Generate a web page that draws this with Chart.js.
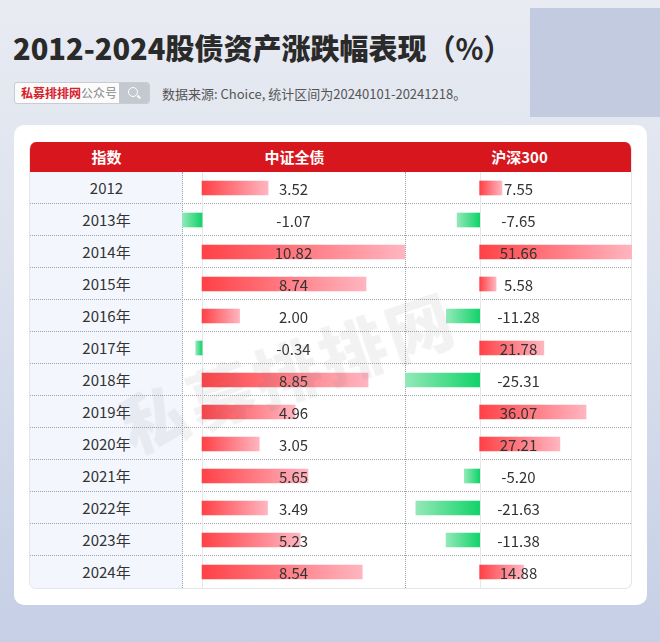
<!DOCTYPE html>
<html>
<head>
<meta charset="utf-8">
<script src="https://cdn.jsdelivr.net/npm/chart.js@4.4.1/dist/chart.umd.min.js"></script>
<style>
  html, body { margin:0; padding:0; }
  body {
    width:660px; height:642px; position:relative; overflow:hidden;
    background: linear-gradient(180deg, #e8ebf2 0%, #dde2ee 40%, #cdd5e8 80%, #c6cfe6 100%);
    font-family: "Noto Sans CJK SC", "Noto Sans", sans-serif;
  }
  .panel { position:absolute; left:530px; top:8px; width:130px; height:109px; background:#c3cbe0; }
  .title { position:absolute; left:13px; top:26px; font-size:29px; font-weight:900; color:#2a2a2a; white-space:nowrap; letter-spacing:0px; }
  .title .p { font-weight:700; }
  .search { position:absolute; left:14px; top:82px; width:136px; height:22px; border:1px solid #c9ccd3; border-radius:3px; background:#fbfbfc; box-sizing:border-box; overflow:hidden; }
  .search .t { position:absolute; left:6px; top:1px; font-size:12px; line-height:18px; color:#888; white-space:nowrap; }
  .search .t b { color:#d6212a; font-weight:700; }
  .search .btn { position:absolute; right:0; top:0; width:30px; height:20px; background:#c4c8cf; }
  .search .btn i { position:absolute; left:9px; top:4px; width:8px; height:8px; border:1.6px solid #fff; border-radius:50%; }
  .search .btn u { position:absolute; left:18px; top:13px; width:4px; height:1.6px; background:#fff; transform:rotate(45deg); }
  .source { position:absolute; left:162px; top:84px; font-size:13px; color:#555; white-space:nowrap; }
  .card { position:absolute; left:14px; top:125px; width:633px; height:480px; background:#fff; border-radius:10px; }
  .table { position:absolute; left:29px; top:142px; width:603px; height:447px; border:1px solid #e4e6ea; border-top:none; border-radius:7px; box-sizing:border-box; overflow:hidden; }
  .head { position:absolute; left:0; top:0; width:603px; height:30px; background:#d8161e; }
  .head div { position:absolute; top:0; height:30px; line-height:30px; text-align:center; color:#fff; font-weight:700; font-size:15px; }
  .col1bg { position:absolute; left:0; top:30px; width:153px; height:416px; background:#f3f7fd; }
  .vline { position:absolute; top:0; width:0; height:446px; border-left:1px dotted #9da3ad; }
  .row { position:absolute; left:0; width:603px; height:32px; box-sizing:border-box; }
  .row.sep { border-bottom:1px dotted #9da3ad; }
  .row span { position:absolute; left:0; width:153px; text-align:center; line-height:32px; font-size:15px; color:#333; }
  canvas.c { position:absolute; }
  .wm { position:absolute; left:122px; top:393px; height:66px; line-height:66px; font-size:66px; font-weight:900; color:rgba(110,110,110,0.09); letter-spacing:4px; transform:rotate(-19deg); transform-origin:0 33px; white-space:nowrap; pointer-events:none; }
</style>
</head>
<body>
<div class="panel"></div>
<div class="title">2012-2024股债资产涨跌幅表现<span class="p">（%）</span></div>
<div class="search"><div class="t"><b>私募排排网</b>公众号</div><div class="btn"><i></i><u></u></div></div>
<div class="source">数据来源: Choice, 统计区间为20240101-20241218。</div>
<div class="card"></div>
<div class="table" id="table">
  <div class="col1bg"></div>
  <div class="head">
    <div style="left:0;width:153px">指数</div>
    <div style="left:153px;width:223px">中证全债</div>
    <div style="left:376px;width:227px">沪深300</div>
  </div>
  <div id="rows"></div>
  <div class="vline" style="left:152px;top:30px;height:416px"></div>
  <div class="vline" style="left:375px;top:30px;height:416px"></div>
</div>
<canvas class="c" id="bond" style="left:182px;top:172px;width:223px;height:416px" width="223" height="416"></canvas>
<canvas class="c" id="hs" style="left:405px;top:172px;width:227px;height:416px" width="227" height="416"></canvas>
<div class="wm">私募排排网</div>

<script>
const years = ["2012","2013年","2014年","2015年","2016年","2017年","2018年","2019年","2020年","2021年","2022年","2023年","2024年"];
const bondValues = [3.52,-1.07,10.82,8.74,2.00,-0.34,8.85,4.96,3.05,5.65,3.49,5.23,8.54];
const hs300Values = [7.55,-7.65,51.66,5.58,-11.28,21.78,-25.31,36.07,27.21,-5.20,-21.63,-11.38,14.88];
const columnTitles = ["指数","中证全债","沪深300"];

// table rows (index column labels + dotted separators)
const rowsEl = document.getElementById('rows');
years.forEach((y, i) => {
  const r = document.createElement('div');
  r.className = 'row' + (i < years.length - 1 ? ' sep' : '');
  r.style.top = (30 + i * 32) + 'px';
  r.innerHTML = '<span>' + y + '</span>';
  rowsEl.appendChild(r);
});

function gradFill(ctx) {
  const chart = ctx.chart;
  const area = chart.chartArea;
  if (!area) return '#f44';
  const v = ctx.raw;
  const xs = chart.scales.x;
  const x0 = xs.getPixelForValue(0);
  const x1 = xs.getPixelForValue(v);
  if (x1 === x0) return '#f44';
  const g = chart.ctx.createLinearGradient(x0, 0, x1, 0);
  if (v >= 0) { g.addColorStop(0, '#ff4146'); g.addColorStop(1, '#ffb5c0'); }
  else { g.addColorStop(0, '#12d36a'); g.addColorStop(1, '#93e9b8'); }
  return g;
}

const labelPlugin = {
  id: 'vals',
  beforeDatasetsDraw(chart) {
    const c = chart.ctx, xs = chart.scales.x, a = chart.chartArea;
    const x0 = Math.round(xs.getPixelForValue(0)) + 0.5;
    c.save();
    c.strokeStyle = '#e6e6e6'; c.lineWidth = 1;
    c.beginPath(); c.moveTo(x0, a.top); c.lineTo(x0, a.bottom); c.stroke();
    c.restore();
  },
  afterDatasetsDraw(chart) {
    const c = chart.ctx, a = chart.chartArea, ys = chart.scales.y;
    const data = chart.data.datasets[0].data;
    c.save();
    c.font = '15px "Noto Sans CJK SC", "Noto Sans", sans-serif';
    c.fillStyle = '#333';
    c.textAlign = 'center'; c.textBaseline = 'middle';
    data.forEach((v, i) => {
      c.fillText(v.toFixed(2), (a.left + a.right) / 2, ys.getPixelForValue(i) + 1);
    });
    c.restore();
  }
};

function makeChart(id, values, min, max) {
  return new Chart(document.getElementById(id), {
    type: 'bar',
    data: { labels: years, datasets: [{ data: values, backgroundColor: gradFill, borderWidth: 0, barThickness: 14 }] },
    options: {
      indexAxis: 'y', responsive: false, animation: false, devicePixelRatio: 1,
      layout: { padding: 0 },
      plugins: { legend: { display: false }, tooltip: { enabled: false } },
      scales: {
        x: { display: false, min: min, max: max },
        y: { display: false, offset: true }
      }
    },
    plugins: [labelPlugin]
  });
}
makeChart('bond', bondValues, -1.07, 10.82);
makeChart('hs', hs300Values, -25.31, 51.66);
</script>
</body>
</html>
